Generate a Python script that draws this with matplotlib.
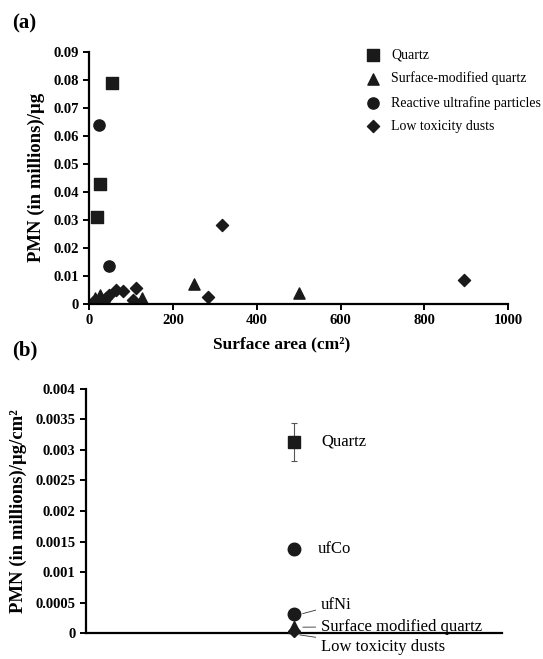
import numpy as np
import matplotlib.pyplot as plt

plt.rcParams['font.family'] = ['Liberation Serif', 'DejaVu Serif']

# Panel (a): surface area (cm2) vs PMN (millions)/ug
quartz_x = [55, 26, 19]
quartz_y = [0.079, 0.043, 0.031]
smq_x = [251, 501, 126, 15, 25]
smq_y = [0.007, 0.004, 0.002, 0.002, 0.003]
ufp_x = [24, 48]
ufp_y = [0.064, 0.0135]
ltd_x = [895, 284, 318, 112, 105, 64, 81, 48, 10, 20, 35, 40]
ltd_y = [0.0085, 0.0025, 0.028, 0.0055, 0.0015, 0.005, 0.0045, 0.003, 0.0005, 0.001, 0.001, 0.002]

# Panel (b): PMN per surface area dose
b_labels = ['Quartz', 'ufCo', 'ufNi', 'Surface modified quartz', 'Low toxicity dusts']
b_values = [0.00313, 0.00138, 0.00031, 0.0001, 0.00003]
b_errors = [0.00031, 0.0001, 0, 0, 0]
b_markers = ['s', 'o', 'o', '^', 'D']

fig = plt.figure(figsize=(5.43, 6.59), dpi=100)

ax1 = fig.add_axes([0.164, 0.539, 0.772, 0.382])
ax1.scatter(quartz_x, quartz_y, marker='s', s=65, c='#1a1a1a', label='Quartz')
ax1.scatter(smq_x, smq_y, marker='^', s=65, c='#1a1a1a', label='Surface-modified quartz')
ax1.scatter(ufp_x, ufp_y, marker='o', s=65, c='#1a1a1a', label='Reactive ultrafine particles')
ax1.scatter(ltd_x, ltd_y, marker='D', s=38, c='#1a1a1a', label='Low toxicity dusts')
ax1.set_xlim(0, 1000)
ax1.set_ylim(0, 0.09)
ax1.set_xticks(np.arange(0, 1001, 200))
ax1.set_yticks(np.arange(0, 0.091, 0.01))
ax1.set_yticklabels(['0'] + ['%.2f' % v for v in np.arange(0.01, 0.091, 0.01)])
for s in ['top', 'right']:
    ax1.spines[s].set_visible(False)
for s in ['left', 'bottom']:
    ax1.spines[s].set_linewidth(1.6)
ax1.tick_params(direction='out', width=1.4, length=4, labelsize=10.5)
for t in ax1.get_xticklabels() + ax1.get_yticklabels():
    t.set_fontweight('bold')
ax1.set_xlabel('Surface area (cm²)', fontsize=12.5, fontweight='bold')
ax1.xaxis.set_label_coords(0.46, -0.13)
ax1.set_ylabel('PMN (in millions)/μg', fontsize=13.5, fontweight='bold', labelpad=6)
ax1.legend(loc='upper left', bbox_to_anchor=(0.615, 1.065), frameon=False, fontsize=10,
           handletextpad=0.3, labelspacing=0.75, scatterpoints=1)
fig.text(0.022, 0.965, '(a)', fontsize=15, fontweight='bold', va='center')

ax2 = fig.add_axes([0.158, 0.039, 0.766, 0.371])
xpos = 0.5
for v, e, m in zip(b_values, b_errors, b_markers):
    ax2.errorbar(xpos, v, yerr=e if e > 0 else None, fmt=m, color='#1a1a1a',
                 ms=9 if m != 'D' else 6, ecolor='#555555', elinewidth=0.8, capsize=2, capthick=0.8,
                 clip_on=False, zorder=3)
ax2.set_xlim(0, 1)
ax2.set_ylim(0, 0.004)
ax2.set_yticks(np.arange(0, 0.00401, 0.0005))
ax2.set_yticklabels(['0', '0.0005', '0.001', '0.0015', '0.002', '0.0025', '0.003', '0.0035', '0.004'])
ax2.set_xticks([])
for s in ['top', 'right']:
    ax2.spines[s].set_visible(False)
for s in ['left', 'bottom']:
    ax2.spines[s].set_linewidth(1.6)
ax2.tick_params(direction='out', width=1.4, length=4, labelsize=10.5)
for t in ax2.get_yticklabels():
    t.set_fontweight('bold')
ax2.set_ylabel('PMN (in millions)/μg/cm²', fontsize=13.5, fontweight='bold', labelpad=6)

# labels beside markers
ax2.text(0.566, b_values[0], b_labels[0], fontsize=12, va='center')
ax2.text(0.557, b_values[1], b_labels[1], fontsize=12, va='center')
ax2.annotate(b_labels[2], xy=(xpos + 0.015, b_values[2]), xytext=(0.566, 0.00047),
             fontsize=12, va='center', arrowprops=dict(arrowstyle='-', lw=0.6, color='#333333'))
ax2.annotate(b_labels[3], xy=(xpos + 0.015, b_values[3]), xytext=(0.566, 0.00011),
             fontsize=12, va='center', arrowprops=dict(arrowstyle='-', lw=0.6, color='#333333'))
ax2.annotate(b_labels[4], xy=(xpos + 0.008, -0.00002), xytext=(0.566, -0.00023),
             fontsize=12, va='center', annotation_clip=False,
             arrowprops=dict(arrowstyle='-', lw=0.6, color='#333333'))
fig.text(0.022, 0.468, '(b)', fontsize=15, fontweight='bold', va='center')

fig.savefig('out.png', dpi=100)
